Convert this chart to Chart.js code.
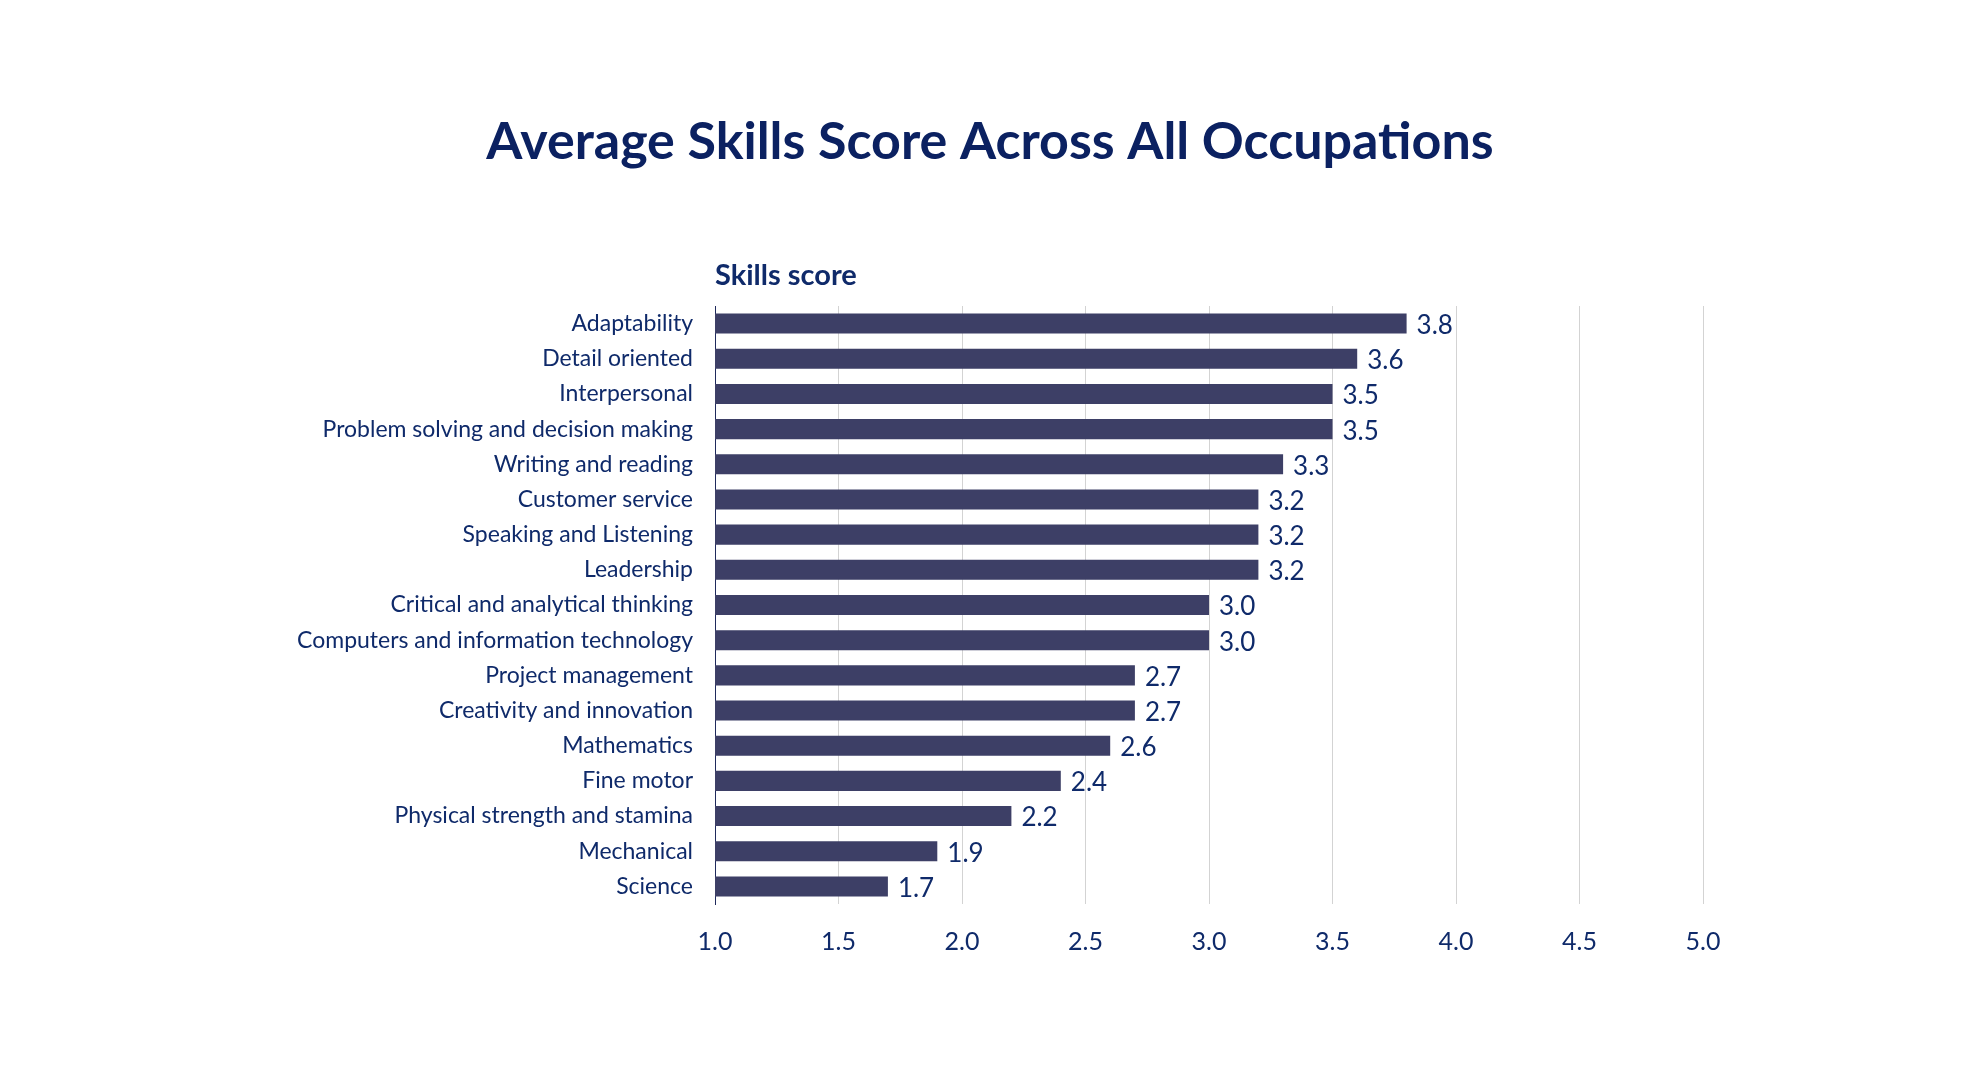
<!DOCTYPE html>
<html lang="en">
<head>
    <meta charset="UTF-8">
    <script src="https://cdn.jsdelivr.net/npm/chart.js"></script>
    <title>Average Skills Score Across All Occupations</title>
    <style>
        body {
            margin: 0;
            background: #ffffff;
        }
        #skillsChart {
            display: block;
        }
    </style>
</head>
<body>
    <canvas id="skillsChart" width="1980" height="1080"></canvas>
<script>
    const chartTitle = 'Average Skills Score Across All Occupations';
    const axisTitle = 'Skills score';
    const skills = [
        'Adaptability',
        'Detail oriented',
        'Interpersonal',
        'Problem solving and decision making',
        'Writing and reading',
        'Customer service',
        'Speaking and Listening',
        'Leadership',
        'Critical and analytical thinking',
        'Computers and information technology',
        'Project management',
        'Creativity and innovation',
        'Mathematics',
        'Fine motor',
        'Physical strength and stamina',
        'Mechanical',
        'Science'
    ];
    const scores = [3.8, 3.6, 3.5, 3.5, 3.3, 3.2, 3.2, 3.2, 3.0, 3.0, 2.7, 2.7, 2.6, 2.4, 2.2, 1.9, 1.7];
    const axisMin = 1.0;
    const axisMax = 5.0;
    const axisStep = 0.5;

    const navy = '#0f2a6a';
    const fontFamily = 'Lato, "Open Sans", sans-serif';

    // title (centred on the whole canvas), "Skills score" heading and bar value labels
    const barLabels = {
        id: 'barLabels',
        afterDraw(chart) {
            const ctx = chart.ctx;
            const meta = chart.getDatasetMeta(0);
            ctx.save();
            ctx.textBaseline = 'middle';

            ctx.fillStyle = '#0b2161';
            ctx.textAlign = 'center';
            ctx.font = 'bold 52px ' + fontFamily;
            ctx.fillText(chartTitle, chart.width / 2, 142);

            ctx.fillStyle = navy;
            ctx.textAlign = 'left';
            ctx.font = 'bold 29px ' + fontFamily;
            ctx.fillText(axisTitle, chart.chartArea.left, 276);

            ctx.font = '26px ' + fontFamily;
            meta.data.forEach((bar, i) => {
                ctx.fillText(scores[i].toFixed(1), bar.x + 10, bar.y + 2);
            });
            ctx.restore();
        }
    };

    new Chart(document.getElementById('skillsChart'), {
        type: 'bar',
        data: {
            labels: skills,
            datasets: [{
                label: axisTitle,
                data: scores,
                backgroundColor: '#3d3f66',
                barPercentage: 0.57,
                categoryPercentage: 1.0
            }]
        },
        options: {
            indexAxis: 'y',
            responsive: false,
            animation: false,
            layout: {
                padding: {left: 0, right: 277, top: 306, bottom: 116}
            },
            plugins: {
                legend: {display: false},
                tooltip: {enabled: false},
                title: {display: false}
            },
            scales: {
                x: {
                    min: axisMin,
                    max: axisMax,
                    ticks: {
                        stepSize: axisStep,
                        color: navy,
                        padding: 23,
                        font: {family: fontFamily, size: 25},
                        callback: v => Number(v).toFixed(1)
                    },
                    grid: {color: '#d3d3d3', lineWidth: 1, drawTicks: false},
                    border: {display: false},
                    afterFit: scale => { scale.height = 60; }
                },
                y: {
                    ticks: {
                        color: navy,
                        padding: 14,
                        autoSkip: false,
                        font: {family: fontFamily, size: 23}
                    },
                    grid: {display: false},
                    border: {display: true, color: '#1f2a5c', width: 1},
                    afterFit: scale => { scale.width = 715; }
                }
            }
        },
        plugins: [barLabels]
    });
</script>
</body>
</html>
